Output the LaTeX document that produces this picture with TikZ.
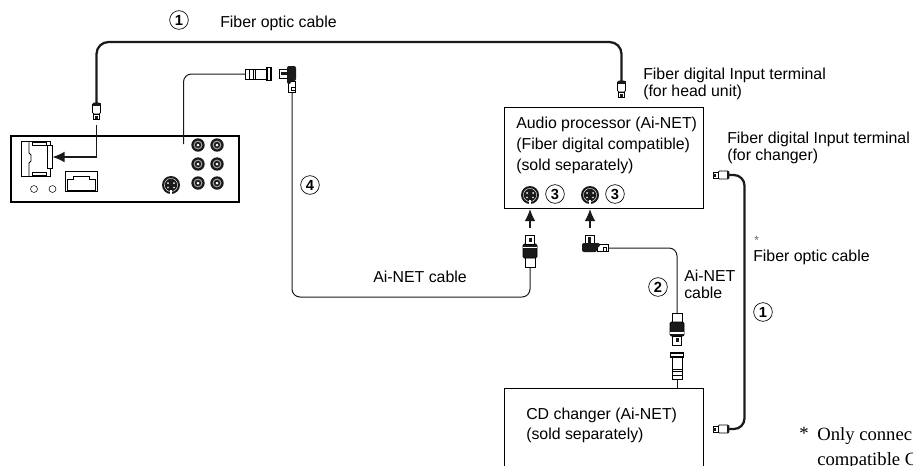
\documentclass[tikz,border=0pt]{standalone}
\usepackage{xcolor}
\usepackage{fontspec}
\setmainfont{Liberation Sans}
\newfontfamily\noteserif{Liberation Serif}
\usetikzlibrary{arrows.meta,positioning,calc}
\definecolor{CableInk}{HTML}{1A1A1A}
\tikzset{
  fiberplug/.pic={
    \draw[line width=.6pt, fill=white, rounded corners=1pt] (-4,0) rectangle (4,11);
    \draw[line width=.6pt, fill=white] (-3,11) rectangle (3,16);
    \fill[CableInk] (-4,0) rectangle (4,2.5);
    \fill[CableInk] (-1.5,13) rectangle (1.5,16);
  },
  netplug/.pic={
    \draw[line width=.6pt, fill=white] (-5,-10) rectangle (5,0);
    \draw[line width=.6pt, fill=CableInk, rounded corners=1pt] (-7,-23) rectangle (7,-9);
    \fill[white] (-7,-19) rectangle (7,-20.5);
    \draw[line width=.6pt, fill=white] (-4.5,-32) rectangle (4.5,-23);
    \fill[CableInk] (-1.5,-29) rectangle (1.5,-25);
  },
  netsocket/.pic={
    \draw[line width=.6pt, fill=white] (-5,-10) rectangle (5,0);
    \draw[line width=.6pt, fill=white] (-5,-22) rectangle (5,-10);
    \draw[line width=.6pt] (-5,-4) -- (5,-4) (-5,-8) -- (5,-8);
    \draw[line width=.8pt, fill=white] (-6.5,-26) rectangle (6.5,-22);
  },
  anglenet/.pic={
    \draw[line width=.6pt, fill=white] (-24,-13) rectangle (-15,-5);
    \fill[CableInk] (-21,-11) rectangle (-18,-5);
    \draw[line width=.6pt, fill=white] (-12,-4) rectangle (-1,3);
    \fill[CableInk, rounded corners=1.5pt] (-27,-5) -- (-9,-5) -- (-9,-1) -- (-12,-1) -- (-12,4) -- (-27,4) -- cycle;
    \draw[line width=.5pt] (-6,-1) rectangle (-3,3);
  },
  rcajack/.pic={
    \fill[CableInk] (0,0) circle (6.7);
    \fill[gray!70] (0,0) circle (4.4);
    \fill[CableInk] (0,0) circle (3.2);
    \fill[white] (0,0) circle (1.5);
  },
  sjack/.pic={
    \fill[CableInk] (0,0) circle (9);
    \draw[white, line width=.3pt] (0,0) circle (6.6);
    \fill[white] (-3,-2) circle (1) (3,-2) circle (1) (-3,2.5) circle (.8) (3,2.5) circle (.8);
    \fill[white] (-1,5) rectangle (1,8.5);
  },
  unitlamp/.style={draw, circle, line width=.4pt, minimum size=5.2pt, inner sep=0pt},
  box/.style={draw, line width=.8pt, inner sep=0pt, anchor=north west},
  label/.style={align=left, inner sep=0pt, anchor=west, font=\fontsize{11.9}{12.75}\selectfont},
  num/.style={draw, circle, line width=.5pt, inner sep=0pt, minimum size=14pt, font=\fontsize{11}{11}\selectfont\bfseries},
  netcable/.style={line width=.75pt, CableInk, rounded corners=6pt},
  fibercable/.style={line width=1.7pt, CableInk, rounded corners=7pt},
  arrow/.style={-{Latex[length=9pt,width=8pt]}, line width=.85pt, CableInk}
}
\begin{document}
\begin{tikzpicture}[x=.75pt, y=-.75pt]
\useasboundingbox (0,0) rectangle (913,465);
\clip (0,0) rectangle (913,465);

\node[box, line width=1.4pt, minimum width=171pt, minimum height=49.5pt] (headunit) at (10,135) {};
\node[box, minimum width=149.25pt, minimum height=75.75pt] (audio) at (504,107) {};
\node[box, minimum width=149.25pt, minimum height=90pt] (changer) at (504,388) {};

\draw[line width=.6pt] (21,141) -- (50,141) -- (50,176) -- (21,176) -- cycle;
\draw[line width=.6pt] (29,141) -- (29,153) -- (31,155) -- (31,161) -- (29,163) -- (29,176);
\draw[line width=.6pt] (32,142) rectangle (46,145) (32,172.5) rectangle (46,175.5);
\node[draw, line width=.6pt, fill=white, minimum width=3.2pt, minimum height=17pt, inner sep=0pt] (slot) at (50,157) {};
\node[draw, line width=.6pt, minimum width=24pt, minimum height=15.5pt, inner sep=0pt] (modular) at (81,181.5) {};
\draw[line width=.6pt] (67,190) -- (67,179) -- (73,179) -- (73,176.5) -- (89,176.5) -- (89,179) -- (95,179) -- (95,190) -- cycle;
\node[unitlamp] (lampa) at (34,189) {};
\node[unitlamp] (lampb) at (52.5,189) {};
\pic at (198,145) {rcajack};
\pic at (217,145) {rcajack};
\pic at (198,164) {rcajack};
\pic at (217,164) {rcajack};
\pic at (198,183) {rcajack};
\pic at (217,183) {rcajack};
\pic at (171,185) {sjack};
\pic at (530,195) {sjack};
\pic at (590,195) {sjack};

\coordinate (fibunit) at (96.5,103);
\coordinate (fibproc) at (621.5,81);
\coordinate (fibtop) at (300,42);
\coordinate (fibchg) at (729,175);
\coordinate (fibchgb) at (729,429);
\coordinate (fibright) at (744.5,300);
\coordinate (unitin) at (96.5,125);
\coordinate (unitlead) at (183.5,144);
\coordinate (leadplug) at (245,74);
\coordinate (angleend) at (292,92);
\coordinate (procplug) at (530,267);
\coordinate (cableb) at (400,297);
\coordinate (anglesrc) at (608,248);
\coordinate (chgplug) at (677,313);
\coordinate (chgsock) at (677,379);
\coordinate (arrowa) at (530,228);
\coordinate (arrowb) at (590,228);

\draw[fibercable, rounded corners=9pt] (fibunit) -- (fibunit |- fibtop) -- (fibproc |- fibtop) -- (fibproc);
\draw[fibercable, rounded corners=8pt] (fibchg) -- (fibright |- fibchg) -- (fibright |- fibchgb) -- (fibchgb);
\draw[netcable] (unitlead) |- (leadplug);
\draw[netcable] (angleend) -- (angleend |- cableb) -- (procplug |- cableb) -- (procplug);
\draw[netcable] (anglesrc) -| (chgplug);
\draw[netcable] (chgsock) -- (chgsock |- changer.north);
\draw[arrow] (unitin) |- (slot.east);
\draw[arrow] (arrowa) -- (arrowa |- audio.south);
\draw[arrow] (arrowb) -- (arrowb |- audio.south);

\pic at (fibunit) {fiberplug};
\pic at (fibproc) {fiberplug};
\pic[rotate=-90] at (fibchg) {fiberplug};
\pic[rotate=-90] at (fibchgb) {fiberplug};
\pic at (procplug) {netplug};
\pic[rotate=180] at (chgplug) {netplug};
\pic[rotate=-90] at (leadplug) {netsocket};
\pic at (chgsock) {netsocket};
\pic at (609,248) {anglenet};
\pic[rotate=-90, yscale=-1] at (292,93) {anglenet};

\node[label, font=\fontsize{11.9}{16}\selectfont, anchor=north west] (audiotext) at (516,116.5) {Audio processor (Ai-NET)\\(Fiber digital compatible)\\(sold separately)};
\node[label, font=\fontsize{11.9}{15}\selectfont, anchor=north west] (changertext) at (526,408) {CD changer (Ai-NET)\\(sold separately)};
\node[label] (headlabel) at (643,83.5) {Fiber digital Input terminal\\(for head unit)};
\node[label] (chglabel) at (727,148) {Fiber digital Input terminal\\(for changer)};
\node[label] (toplabel) at (220,23) {Fiber optic cable};
\node[label] (netlabel) at (373,277) {Ai-NET cable};
\node[label] (netlabelb) at (684,284) {Ai-NET\\cable};
\node[label] (sidelabel) at (753,257) {Fiber optic cable};
\node[label, font=\fontsize{9}{9}\selectfont, text=black!60] (sidestar) at (754,240.5) {*};
\node[label, font=\noteserif\fontsize{14}{18.75}\selectfont, anchor=north west] (note) at (817,427) {Only connec\\compatible C};
\node[label, font=\noteserif\fontsize{14}{14}\selectfont, anchor=north west] (notestar) at (799,427) {*};

\node[num] (numa) at (179,20) {1};
\node[num] (numb) at (310,185) {4};
\node[num] (numc) at (555,194) {3};
\node[num] (numd) at (615,194) {3};
\node[num] (nume) at (658,287) {2};
\node[num] (numf) at (763,312) {1};
\end{tikzpicture}
\end{document}
